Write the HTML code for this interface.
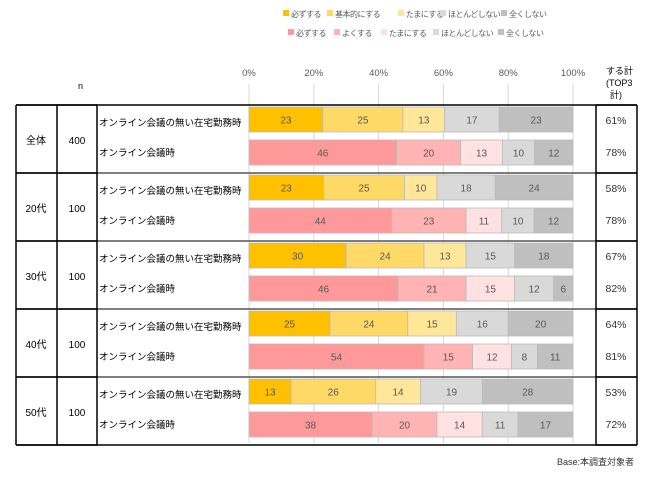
<!DOCTYPE html>
<html><head><meta charset="utf-8"><style>
body{margin:0;background:#fff;width:650px;height:481px;overflow:hidden;font-family:"Liberation Sans","Noto Sans CJK JP",sans-serif;}
svg text{font-family:"Liberation Sans","Noto Sans CJK JP",sans-serif;}
</style></head><body>
<svg id="c" width="650" height="481"></svg>
<script>
const groups=["全体","20代","30代","40代","50代"];
const nValues=["400","100","100","100","100"];
const rowLabels=["オンライン会議の無い在宅勤務時","オンライン会議時"];
const legendA=["必ずする","基本的にする","たまにする","ほとんどしない","全くしない"];
const legendB=["必ずする","よくする","たまにする","ほとんどしない","全くしない"];
const seriesA=[[23,25,13,17,23],[23,25,10,18,24],[30,24,13,15,18],[25,24,15,16,20],[13,26,14,19,28]];
const seriesB=[[46,20,13,10,12],[44,23,11,10,12],[46,21,15,12,6],[54,15,12,8,11],[38,20,14,11,17]];
const top3A=["61%","58%","67%","64%","53%"];
const top3B=["78%","78%","82%","81%","72%"];
const ticks=[0,20,40,60,80,100];
const colA=["#FFC000","#FFD966","#FFE699","#D9D9D9","#BFBFBF"];
const colB=["#FF9999","#FFB3B3","#FFE1E1","#D9D9D9","#BFBFBF"];
const svg=document.getElementById('c');const NS="http://www.w3.org/2000/svg";
function mk(t,a,txt){const e=document.createElementNS(NS,t);for(const k in a)e.setAttribute(k,a[k]);if(txt!==undefined)e.textContent=txt;svg.appendChild(e);return e;}
const X0=249,X1=573,T=105,BH=68;
const x=v=>X0+(X1-X0)*v/100;
function legend(items,cols,y,xs){items.forEach((s,i)=>{const r=mk('rect',{x:xs[i],y:y-7,width:6,height:6,fill:cols[i]});const t=mk('text',{x:xs[i]+8,y:y,'font-size':8,'letter-spacing':-0.5,fill:'#595959'},s);});}
legend(legendA,colA,17,[283,327,398,440,501]);
legend(legendB,colB,36,[288,334,381,433,498]);
ticks.forEach(v=>{const t=mk('text',{x:x(v),y:76,'font-size':9.5,fill:'#595959','text-anchor':'middle'},v+'%');const l=mk('line',{x1:x(v),x2:x(v),y1:84,y2:443,stroke:'#D9D9D9','stroke-width':1});});
const h1=mk('text',{x:78,y:89,'font-size':9,fill:'#000'},'n');
[['する計',74],['(TOP3',86],['計)',98]].forEach((s,i)=>{const t=mk('text',{x:i==2?610:606,y:s[1],'font-size':9,fill:'#000'},s[0]);});
function bars(vals,cols,y,h){const tot=vals.reduce((a,b)=>a+b,0);let acc=0;vals.forEach((v,i)=>{const a=acc/tot*100,b=(acc+v)/tot*100;acc+=v;const r=mk('rect',{x:x(a),y:y,width:x(b)-x(a),height:h,fill:cols[i],stroke:'#BBBBBB','stroke-width':0.8});const t=mk('text',{x:(x(a)+x(b))/2,y:y+h/2+4,'font-size':10,fill:'#595959','text-anchor':'middle'},v);});}
groups.forEach((g,i)=>{const y=T+BH*i;
 bars(seriesA[i],colA,y+2,25);bars(seriesB[i],colB,y+35,25);
 const a=mk('text',{x:36,y:y+39,'font-size':10,'text-anchor':'middle'},g);
 const b=mk('text',{x:77,y:y+39,'font-size':10,'text-anchor':'middle'},nValues[i]);
 const c=mk('text',{x:99,y:y+21,'font-size':9.5},rowLabels[0]);
 const d=mk('text',{x:99,y:y+51,'font-size':9.5},rowLabels[1]);
 const e=mk('text',{x:616,y:y+19,'font-size':10.5,'text-anchor':'middle',fill:'#333'},top3A[i]);
 const f=mk('text',{x:616,y:y+51,'font-size':10.5,'text-anchor':'middle',fill:'#333'},top3B[i]);
});
for(let i=0;i<=5;i++){const y=T+BH*i;mk('line',{x1:16,x2:637,y1:y,y2:y,stroke:i==0||i==5?'#000':'#555','stroke-width':1.5});mk('line',{x1:16,x2:97,y1:y,y2:y,stroke:'#000','stroke-width':1.5});mk('line',{x1:596,x2:637,y1:y,y2:y,stroke:'#000','stroke-width':1.5});}
[16,57,97,596,637].forEach(xx=>mk('line',{x1:xx,x2:xx,y1:T,y2:T+BH*5,stroke:'#000','stroke-width':1.5}));
const bs=mk('text',{x:634,y:465,'font-size':9,'text-anchor':'end',fill:'#333'},'Base:本調査対象者');
</script>
</body></html>
